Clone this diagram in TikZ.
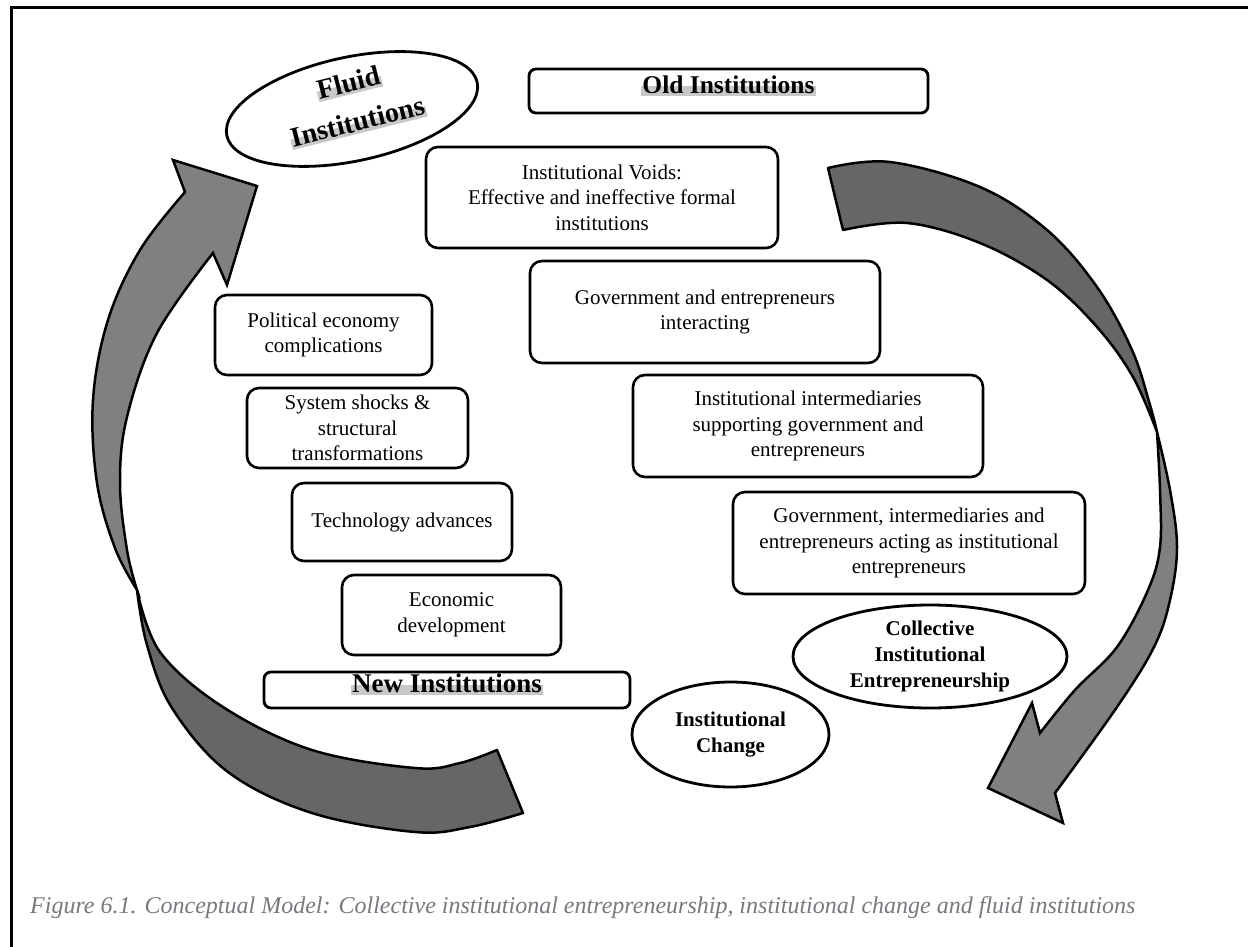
\documentclass[tikz,border=0pt]{standalone}
\usepackage{fontspec}
\setmainfont{Liberation Serif}
\usetikzlibrary{shapes.geometric,calc}

\definecolor{hlgray}{RGB}{200,200,200}
\definecolor{backgray}{RGB}{102,102,102}
\definecolor{frontgray}{RGB}{128,128,128}
\definecolor{capgray}{RGB}{120,120,126}

\tikzset{
  box/.style={draw, line width=2.6, rounded corners=12, align=center,
    inner sep=0, font=\fontsize{21}{25.5}\selectfont},
  labelbox/.style={draw, line width=2.8, rounded corners=7, inner sep=0},
  oval/.style={ellipse, draw, line width=2.8, align=center, inner sep=0,
    font=\bfseries\fontsize{21}{25.8}\selectfont},
  hl/.style={fill=hlgray, inner xsep=1, inner ysep=0,
    text height=0.8em, text depth=0.26em},
  backpart/.style={draw, fill=backgray, line width=2.5, line join=round},
  frontpart/.style={draw, fill=frontgray, line width=2.5, line join=miter},
}

\begin{document}
\begin{tikzpicture}[x=1pt, y=-1pt]
\useasboundingbox (0,0) rectangle (1248,947);

% frame
\draw[line width=3] (11,947) -- (11,7.5) -- (1248,7.5);

% ---------- left curved arrow (rising towards fluid institutions) ----------
\coordinate (lT1) at (497,750);
\coordinate (lT2) at (523,813);
\coordinate (lX)  at (137,590);
\coordinate (lNa) at (185,192);
\coordinate (lBa) at (173,160);
\coordinate (lTip) at (257,186);
\coordinate (lBb) at (227,285);
\coordinate (lNb) at (213,253);

\draw[backpart] (lT1) -- (lT2)
  -- plot[smooth, tension=0.6] coordinates {(lT2) (470,827) (415,832) (312,813) (228,772) (172,708) (147,645) (lX)}
  -- plot[smooth, tension=0.6] coordinates {(lX) (160,652) (223,707) (312,750) (415,768) (460,763) (lT1)}
  -- cycle;

\draw[frontpart] (lX)
  -- plot[smooth, tension=0.6] coordinates {(lX) (115,548) (97,483) (93,400) (108,320) (140,250) (lNa)}
  -- (lBa) -- (lTip) -- (lBb) -- (lNb)
  -- plot[smooth, tension=0.6] coordinates {(lNb) (157,333) (127,417) (120,483) (127,550) (lX)}
  -- cycle;

% ---------- right curved arrow (descending towards institutional change) ----------
\coordinate (rT1) at (828,168);
\coordinate (rT2) at (843,230);
\coordinate (rX)  at (1157,432);
\coordinate (rNu) at (1040,733);
\coordinate (rBu) at (1032,703);
\coordinate (rTip) at (988,788);
\coordinate (rBl) at (1063,823);
\coordinate (rNl) at (1055,793);

\draw[backpart] (rT1)
  -- plot[smooth, tension=0.6] coordinates {(rT1) (890,162) (980,187) (1047,230) (1097,287) (1132,350) (1150,405) (rX)}
  -- plot[smooth, tension=0.6] coordinates {(rX) (1133,377) (1097,327) (1047,280) (980,243) (907,223) (rT2)}
  -- cycle;

\draw[frontpart] (rX)
  -- plot[smooth, tension=0.6] coordinates {(rX) (1170,490) (1177,547) (1170,600) (1154,647) (1117,707) (rNl)}
  -- (rBl) -- (rTip) -- (rBu) -- (rNu)
  -- plot[smooth, tension=0.6] coordinates {(rNu) (1075,690) (1117,647) (1148,590) (1160,547) (1160,490) (rX)}
  -- cycle;

% ---------- fluid institutions ----------
\node[ellipse, draw, line width=2.8, minimum width=256, minimum height=104,
      inner sep=0, rotate=12] (fluid) at (352,109) {};
\node[hl, font=\bfseries\fontsize{28}{34}\selectfont, rotate=14] (fluidA) at (350,89) {Fluid};
\node[hl, font=\bfseries\fontsize{28}{34}\selectfont, rotate=14] (fluidB) at (359,128) {Institutions};

% ---------- old institutions ----------
\node[labelbox, minimum width=399, minimum height=44] (old) at (728.5,91) {};
\node[hl, font=\bfseries\fontsize{25.5}{30}\selectfont] (oldtxt) at (old.center) {Old Institutions};

% ---------- right column ----------
\node[box, minimum width=352, minimum height=101] (voids) at (602,197.5)
  {Institutional Voids:\\Effective and ineffective formal\\institutions};
\node[box, minimum width=350, minimum height=102] (interact) at (705,312)
  {Government and entrepreneurs\\interacting};
\node[box, minimum width=350, minimum height=102] (interm) at (808,426)
  {Institutional intermediaries\\supporting government and\\entrepreneurs};
\node[box, minimum width=352, minimum height=102] (acting) at (909,543)
  {Government, intermediaries and\\entrepreneurs acting as institutional\\entrepreneurs};

% ---------- left column ----------
\node[box, minimum width=217, minimum height=80] (polit) at (323.5,335)
  {Political economy\\complications};
\node[box, minimum width=221, minimum height=80] (shocks) at (357.5,428)
  {System shocks \&\\structural\\transformations};
\node[box, minimum width=220, minimum height=78] (techno) at (402,522)
  {Technology advances};
\node[box, minimum width=219, minimum height=80] (econ) at (451.5,615)
  {Economic\\development};

% ---------- new institutions ----------
\node[labelbox, minimum width=366, minimum height=36] (new) at (447,690) {};
\node[hl, font=\bfseries\fontsize{27}{30}\selectfont] (newtxt) at (new.center) {New Institutions};

% ---------- ovals ----------
\node[oval, minimum width=274, minimum height=103] (collective) at (930,656.5)
  {Collective\\Institutional\\Entrepreneurship};
\node[oval, minimum width=197, minimum height=105] (change) at (730.5,734.5)
  {Institutional\\Change};

% ---------- caption ----------
\node[anchor=base west, inner sep=0, text=capgray,
      font=\itshape\fontsize{24}{28}\selectfont] (caption) at (30,913)
  {Figure 6.1. Conceptual Model: Collective institutional entrepreneurship, institutional change and fluid institutions};
\end{tikzpicture}
\end{document}
